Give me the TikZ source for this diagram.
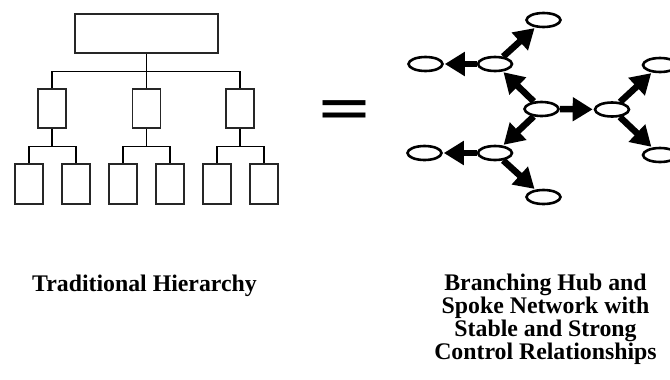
\documentclass[tikz,border=0pt]{standalone}
\usepackage{fontspec}
\setmainfont{Liberation Serif}
\setsansfont{Liberation Sans}
\usepackage{tikz}
\usetikzlibrary{positioning, arrows.meta, shapes.geometric, calc}

\begin{document}
\begin{tikzpicture}[x=1pt, y=-1pt,
        box/.style={draw=black!85, line width=1.2pt, inner sep=0pt},
        link/.style={draw=black, line width=1.2pt},
        hub/.style={ellipse, draw, line width=2.6pt, inner sep=0pt,
            minimum width=34pt, minimum height=14pt},
        arr/.style={-{Triangle[length=20pt, width=23pt]}, line width=6.5pt,
            shorten >=1pt},
        caption/.style={align=center, font=\bfseries\fontsize{23.8}{23}\selectfont}
    ]
        \useasboundingbox (0,0) rectangle (670,380);

        % Traditional hierarchy
        \node[box, minimum width=143pt, minimum height=39pt] (top) at (146.5,33.5) {};
        \node[box, minimum width=28pt, minimum height=39pt] (m1) at (52,108.5) {};
        \node[box, minimum width=28pt, minimum height=39pt] (m2) at (146.5,108.5) {};
        \node[box, minimum width=28pt, minimum height=39pt] (m3) at (240,108.5) {};
        \foreach \i/\x in {1/29, 2/76, 3/123, 4/170, 5/217, 6/264}
            \node[box, minimum width=28pt, minimum height=40pt] (l\i) at (\x,184) {};

        \draw[link] (top.south) -- (m2.north);
        \coordinate (bus) at ($(top.south)+(0,18)$);
        \draw[link] (bus) -| (m1.north);
        \draw[link] (bus) -| (m3.north);
        \foreach \m/\a/\b in {m1/l1/l2, m2/l3/l4, m3/l5/l6} {
            \draw[link] (\m.south) -- ++(0,18) coordinate (b\m);
            \draw[link] (b\m) -| (\a.north);
            \draw[link] (b\m) -| (\b.north);
        }

        % equals
        \node[font=\sffamily\bfseries\fontsize{90}{90}\selectfont, inner sep=0pt] (eq)
            at (344.5,113) {\scalebox{0.95}[0.51]{=}};

        % Hub and spoke network
        \node[hub] (c) at (541.5,109) {};
        \node[hub] (hl) at (495,64) {};
        \node[hub] (hb) at (495,153) {};
        \node[hub] (hr) at (612,109.5) {};
        \node[hub] (fl) at (425.5,64) {};
        \node[hub] (ft) at (543.5,20) {};
        \node[hub] (flb) at (424.5,153) {};
        \node[hub] (fb) at (543.5,197) {};
        \node[hub] (frt) at (660,65) {};
        \node[hub] (frb) at (660,155) {};

        \draw[arr] (c) -- (hl);
        \draw[arr] (c) -- (hb);
        \draw[arr] (c) -- (hr);
        \draw[arr] (hl) -- (fl);
        \draw[arr] (hl) -- (ft);
        \draw[arr] (hb) -- (flb);
        \draw[arr] (hb) -- (fb);
        \draw[arr] (hr) -- (frt);
        \draw[arr] (hr) -- (frb);

        % captions
        \node[caption, anchor=base] (cap1) at (144.5,291) {Traditional Hierarchy};
        \node[caption, anchor=base] (cap2) at (545.5,359)
            {Branching Hub and\\Spoke Network with\\Stable and Strong\\Control Relationships};

    \end{tikzpicture}
\end{document}
